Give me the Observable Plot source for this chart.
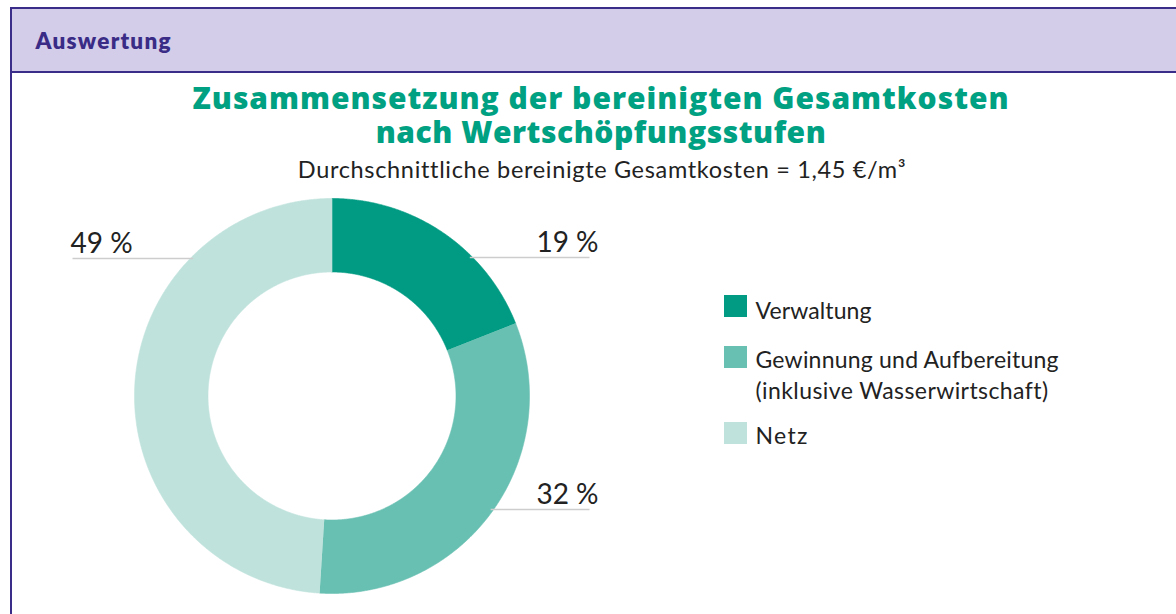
<!DOCTYPE html>
<html>
<head>
<meta charset="utf-8">
<script src="https://cdn.jsdelivr.net/npm/d3@7"></script>
<script src="https://cdn.jsdelivr.net/npm/@observablehq/plot@0.6"></script>
<style>
  html, body { margin: 0; padding: 0; background: #fff; }
  #page { position: relative; width: 1176px; height: 614px; overflow: hidden; }
  #vline { position: absolute; left: 9.5px; top: 7px; width: 2.5px; height: 700px; background: #3a2d8a; }
  #header { position: absolute; left: 9.5px; top: 7px; width: 1250px; height: 61.5px; background: #d3cdea; border: 2.5px solid #3a2d8a; }
  #chart { position: absolute; left: 0; top: 0; }
</style>
</head>
<body>
<div id="page">
  <div id="vline"></div>
  <div id="header"></div>
  <div id="chart"></div>
</div>
<script>
// ---- data ----
const categories = ["Verwaltung", "Gewinnung und Aufbereitung (inklusive Wasserwirtschaft)", "Netz"];
const legendLines = [["Verwaltung"], ["Gewinnung und Aufbereitung", "(inklusive Wasserwirtschaft)"], ["Netz"]];
const shares = [19, 32, 49];
const shareLabels = ["19 %", "32 %", "49 %"];
const colors = ["#009b82", "#68c0b2", "#c0e2dc"];
const headerText = "Auswertung";
const titleLines = ["Zusammensetzung der bereinigten Gesamtkosten", "nach Wertschöpfungsstufen"];
const subtitle = "Durchschnittliche bereinigte Gesamtkosten = 1,45 €/m³";

// ---- layout ----
const W = 1176, H = 614;
const cx = 331.5, cy = 395.5, R = 197.5, r0 = 124;
const labelLayout = [
  {side: "right", lineY: 257, end: 589},
  {side: "right", lineY: 509, end: 589},
  {side: "left",  lineY: 258, end: 72}
];
const legendX = 724, legendSw = 23, legendTextX = 755;
const legendSwTops = [295, 346, 422];
const legendBaselines = [[318], [367, 398], [443]];
const legendWidths = [[116], [303, 292], [52]];
const titleWidths = [816, 450];

const BODY = "Lato, 'Open Sans', sans-serif";
const TITLE = "'Open Sans', Lato, sans-serif";

// ---- texts (layout specs) ----
const texts = [
  {text: headerText, x: 35, y: 48.5, anchor: "start", size: 22.5, weight: 800, family: BODY, fill: "#3a2c86", width: 135},
  {text: subtitle, x: 601.5, y: 177.5, anchor: "middle", size: 23.5, weight: 400, family: BODY, fill: "#222", width: 607}
];
legendLines.forEach((lines, i) => lines.forEach((t, j) => texts.push(
  {text: t, x: legendTextX, y: legendBaselines[i][j], anchor: "start", size: 23, weight: 400, family: BODY, fill: "#222", width: legendWidths[i][j]}
)));
const titleSpec = {text: titleLines.join("\n"), x: 600.5, y: 142};

// ---- arcs from data ----
const pie = d3.pie().sort(null).value(d => d.v)(categories.map((c, i) => ({c, v: shares[i]})));
const arcPts = [];
pie.forEach(p => {
  const n = Math.max(8, Math.ceil((p.endAngle - p.startAngle) / 0.005));
  for (let k = 0; k <= n; k++) {
    const a = p.startAngle + (p.endAngle - p.startAngle) * k / n;
    arcPts.push({key: p.data.c, x: cx + R * Math.sin(a), y: cy - R * Math.cos(a)});
  }
  for (let k = n; k >= 0; k--) {
    const a = p.startAngle + (p.endAngle - p.startAngle) * k / n;
    arcPts.push({key: p.data.c, x: cx + r0 * Math.sin(a), y: cy - r0 * Math.cos(a)});
  }
});

const leaders = labelLayout.map((L, i) => {
  const dx = Math.sqrt(R * R - (L.lineY - cy) ** 2);
  const edge = L.side === "right" ? cx + dx : cx - dx;
  return {key: categories[i], text: shareLabels[i], side: L.side,
          x1: L.side === "right" ? edge - 3 : L.end, x2: L.side === "right" ? L.end : edge + 3,
          y: L.lineY, tx: L.side === "right" ? L.end + 9 : L.end - 2, ty: L.lineY - 6};
});

const swatches = categories.map((c, i) => ({key: c, x1: legendX, x2: legendX + legendSw, y1: legendSwTops[i], y2: legendSwTops[i] + 22}));

const chart = Plot.plot({
  width: W, height: H, margin: 0,
  x: {domain: [0, W], range: [0, W], axis: null},
  y: {domain: [0, H], range: [0, H], axis: null},
  color: {domain: categories, range: colors},
  style: {fontFamily: BODY, background: "transparent", overflow: "visible"},
  marks: [
    Plot.line(arcPts, {x: "x", y: "y", z: "key", fill: "key", stroke: "key", strokeWidth: 0.6, curve: "linear"}),
    Plot.link(leaders, {x1: "x1", y1: "y", x2: "x2", y2: "y", stroke: "#cdcdcd", strokeWidth: 1.6}),
    Plot.text(leaders.filter(d => d.side === "right"), {x: "tx", y: "ty", text: "text", textAnchor: "end", lineAnchor: "bottom", fontSize: 28, fill: "#222"}),
    Plot.text(leaders.filter(d => d.side === "left"), {x: "tx", y: "ty", text: "text", textAnchor: "start", lineAnchor: "bottom", fontSize: 28, fill: "#222"}),
    Plot.rect(swatches, {x1: "x1", x2: "x2", y1: "y1", y2: "y2", fill: "key"}),
    Plot.text([titleSpec], {x: "x", y: "y", text: "text", textAnchor: "middle", lineAnchor: "bottom", lineHeight: 34 / 30,
      fontSize: 30, fontWeight: 800, fontFamily: TITLE, fill: "#00a082"}),
    ...texts.map(s => Plot.text([s], {x: "x", y: "y", text: "text", textAnchor: s.anchor, lineAnchor: "bottom",
      fontSize: s.size, fontWeight: s.weight, fontFamily: s.family, fill: s.fill}))
  ]
});
document.getElementById("chart").appendChild(chart);

// fit letter-spacing of texts to the reference widths
const fitWidths = new Map(texts.map(s => [s.text, s.width]));
titleLines.forEach((t, i) => fitWidths.set(t, titleWidths[i]));
chart.querySelectorAll("text, tspan").forEach(el => {
  if (el.tagName === "text" && el.querySelector("tspan")) return;
  const target = fitWidths.get(el.textContent);
  if (target == null) return;
  const w = el.getComputedTextLength();
  const n = el.textContent.length;
  const ls = (target - w) / Math.max(1, n - 1);
  el.style.letterSpacing = ls.toFixed(2) + "px";
});
</script>
</body>
</html>
